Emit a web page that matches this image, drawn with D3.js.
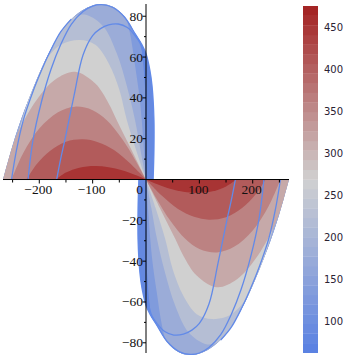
<!DOCTYPE html>
<html><head><meta charset="utf-8">
<script src="https://cdn.jsdelivr.net/npm/d3@7"></script>
<style>body{margin:0;background:#fff}svg{display:block}</style>
</head><body>
<svg id="chart" width="355" height="355"></svg>
<script>
// ---- data (upper-left lobe; the lower-right lobe is its point reflection) ----
const xMajorTicks = [-200, -100, 100, 200];
const xMinorTicks = [-250, -150, -50, 50, 150, 250];
const yMajorTicks = [-80, -60, -40, -20, 20, 40, 60, 80];
const yMinorTicks = [-70, -50, -30, -10, 10, 30, 50, 70];
const colorTicks = [100, 150, 200, 250, 300, 350, 400, 450];
const valueRange = [62.6, 475.4];
const contourLevels = [62.6, 108.5, 154.4, 200.2, 246.1, 292.0, 337.9, 383.8, 429.6, 475.4];

const domainBoundary = [[-268,0],[-258,9.5],[-240,25],[-212,44.5],[-180,63],[-150,75.8],[-120,82.8],[-100,85.3],[-83,86],[-62,84.6],[-40,79.8],[-20,71.5],[-8,66.5],[0,61.9],[7.5,53.7],[11.8,45.5],[15.2,29.2],[15.2,15],[13.7,0]];

// band boundaries, from the outermost (lowest value) to the innermost (highest value)
const arc8 = [[-290,0],[-290,100],[-40,100],[-16,80],[-8,64],[-2,46],[0,29.2],[0.4,14],[0,0]];
const arc7 = [[-290,0],[-290,100],[-60,96],[-40,82],[-30,71.7],[-20,55],[-12,40],[-8,29.2],[-4,15],[0,0]];
const arc6 = [[-255,0],[-246,10],[-226,30],[-202,51],[-176,66.5],[-150,77],[-130,80.3],[-111,80.6],[-80,75],[-55,62],[-35,45],[-20.6,29.2],[-10,14],[0,0]];
const arc5 = [[-262,0],[-240,22],[-215,43],[-190,57.5],[-160,66],[-124,68.4],[-95,66],[-70,57],[-50,44],[-36,29.2],[-18,14],[0,0]];
const arc4 = [[-275,0],[-262,8],[-240,23],[-205,39],[-170,49],[-133,52.8],[-95,47],[-70,37.3],[-55,29.2],[-28,15],[0,0]];
const arc3 = [[-252,0],[-230,13],[-200,25],[-165,33],[-133,35.7],[-100,34],[-74,29.2],[-45,20],[-20,9.5],[0,0]];
const arc2 = [[-224,0],[-205,7.5],[-180,14],[-150,18.5],[-118,19.7],[-90,18.3],[-60,14.5],[-30,8],[0,0]];
const arc1 = [[-169,0],[-150,3.4],[-125,5.8],[-96,6.6],[-70,6],[-45,4.5],[-20,2.2],[0,0]];
const bandArcs = [arc8, arc7, arc6, arc5, arc4, arc3, arc2, arc1];

const curveA = [[-167.5,0],[-160,10],[-152,19.4],[-135,41],[-118,61],[-100,70.5],[-86,73.8],[-70,75.8],[-52,76.2],[-35,74.5],[-22,71],[-11,66.8],[-4,60],[-1,48],[0,30],[0,0]];
const curveB = [[-221,0],[-212,19],[-196,38],[-178,54],[-160,66],[-140,76],[-118,82.3],[-100,85],[-83,85.7],[-62,84.3],[-40,79.5],[-20,71.2],[-8,66.2],[0,61.6],[7.3,53.5],[11.5,45.4],[14.9,29.2],[14.9,15],[13.4,0]];
const curveC = [[-252,0],[-243,14],[-230,29],[-212,43],[-195,54],[-180,62.6],[-160,72.3],[-140,78.6]];
const blueCurves = [curveA, curveB, curveC];

// ---- drawing ----
const svg = d3.select("#chart");
const x = d3.scaleLinear().domain([-268, 268]).range([3, 289]);
const y = d3.scaleLinear().domain([86, -85]).range([4, 353]);
const color = d3.scaleLinear().domain([valueRange[0], (valueRange[0]+valueRange[1])/2, valueRange[1]])
  .range(["rgb(88,128,226)", "rgb(208,208,208)", "rgb(163,32,32)"]);

const line = d3.line().x(d => x(d[0])).y(d => y(d[1])).curve(d3.curveCatmullRom.alpha(0.5));
const refl = pts => pts.map(p => [-p[0], -p[1]]);

const defs = svg.append("defs");
[1, -1].forEach((s, i) => {
  const pts = s === 1 ? domainBoundary : refl(domainBoundary);
  defs.append("clipPath").attr("id", "lobe" + i)
    .append("path").attr("d", line(pts) + "Z");
});

const bandColor = k => color((contourLevels[k] + contourLevels[k+1]) / 2);

[0, 1].forEach(i => {
  const tr = i === 0 ? (p => p) : refl;
  const g = svg.append("g").attr("clip-path", `url(#lobe${i})`);
  g.append("path").attr("d", line(tr(domainBoundary)) + "Z").attr("fill", bandColor(0));
  bandArcs.forEach((arc, k) => {
    g.append("path").attr("d", line(tr(arc)) + "Z").attr("fill", bandColor(k + 1));
  });
  blueCurves.forEach(c => {
    svg.append("path").attr("d", line(tr(c))).attr("fill", "none")
      .attr("stroke", "rgb(98,138,232)").attr("stroke-width", 1.3);
  });
});

// axes
const ax = svg.append("g").attr("stroke", "#000").attr("stroke-width", 1);
ax.append("line").attr("x1", x(-268)).attr("x2", x(268)).attr("y1", y(0)).attr("y2", y(0));
ax.append("line").attr("x1", x(0)).attr("x2", x(0)).attr("y1", y(86)).attr("y2", y(-85));
xMajorTicks.forEach(v => ax.append("line").attr("x1", x(v)).attr("x2", x(v)).attr("y1", y(0)).attr("y2", y(0) + 4));
xMinorTicks.forEach(v => ax.append("line").attr("x1", x(v)).attr("x2", x(v)).attr("y1", y(0)).attr("y2", y(0) + 3));
yMajorTicks.forEach(v => ax.append("line").attr("x1", x(0) - 3.5).attr("x2", x(0)).attr("y1", y(v)).attr("y2", y(v)));
yMinorTicks.forEach(v => ax.append("line").attr("x1", x(0) - 2).attr("x2", x(0)).attr("y1", y(v)).attr("y2", y(v)));

const fmt = v => (v < 0 ? "\u2212" : "") + Math.abs(v);
const tf = "'Liberation Serif', 'Times New Roman', serif";
xMajorTicks.forEach(v => svg.append("text").attr("x", x(v) - 1).attr("y", y(0) + 14)
  .attr("text-anchor", "middle").attr("font-family", tf).attr("font-size", 13.5).attr("fill", "#111").text(fmt(v)));
yMajorTicks.forEach(v => svg.append("text").attr("x", x(0) - 3).attr("y", y(v) + 4.5)
  .attr("text-anchor", "end").attr("font-family", tf).attr("font-size", 13.5).attr("fill", "#111").text(fmt(v)));
svg.append("text").attr("x", x(0) - 3).attr("y", y(0) + 14).attr("text-anchor", "end")
  .attr("font-family", tf).attr("font-size", 13.5).attr("fill", "#111").text("0");

// colour bar
const cb = d3.scaleLinear().domain(valueRange).range([352.7, 6]);
const nSteps = 36;
const stepW = (valueRange[1] - valueRange[0]) / nSteps;
const steps = d3.range(nSteps).map(i => valueRange[0] + i * stepW);
svg.append("g").selectAll("rect").data(steps).join("rect")
  .attr("x", 303).attr("width", 15)
  .attr("y", d => cb(d + stepW)).attr("height", d => cb(d) - cb(d + stepW) + 0.3)
  .attr("fill", d => color(d + stepW / 2));
colorTicks.forEach(v => svg.append("text").attr("x", 324).attr("y", cb(v) + 3.8)
  .attr("font-family", "'DejaVu Sans', sans-serif").attr("font-size", 10).attr("fill", "#2a2233").text(v));
</script>
</body></html>
